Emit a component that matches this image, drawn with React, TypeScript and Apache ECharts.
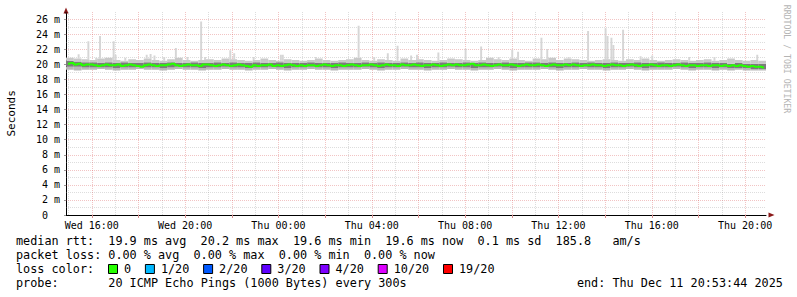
import React, { useEffect, useRef } from 'react';
import * as echarts from 'echarts';

// time in minutes since Wed Dec 10 00:00
const START = 893 + 44 / 60; // Wed 14:53:44
const END = START + 1800; // Thu 20:53:44
const MEDIAN_STEP = 10;
const SMOKE_STEP = 20;
const SPIKE_STEP = 5;

const median = [
  20.1, 20.2, 20.0, 20.1, 19.9, 20.0, 20.0, 19.9, 19.8, 19.9, 20.0, 19.9, 19.9, 20.0, 19.8, 19.9, 20.0, 19.9, 19.8, 19.7,
  19.9, 20.0, 19.9, 19.8, 19.9, 19.9, 20.0, 20.1, 19.9, 19.8, 19.9, 20.0, 19.9, 19.9, 19.8, 20.0, 20.0, 19.9, 19.8, 19.9,
  20.0, 19.9, 19.8, 19.9, 20.0, 19.9, 19.8, 19.7, 19.9, 19.8, 19.9, 19.9, 20.0, 19.8, 19.9, 19.8, 19.9, 20.0, 19.9, 19.8,
  19.9, 19.8, 19.9, 19.9, 19.8, 19.9, 20.0, 19.9, 19.8, 19.9, 19.9, 19.8, 19.9, 20.0, 19.9, 19.8, 19.9, 19.9, 20.0, 19.9,
  19.8, 19.9, 20.0, 19.9, 19.9, 19.8, 20.0, 19.9, 19.9, 20.0, 19.9, 19.8, 19.9, 19.9, 20.0, 19.9, 19.8, 19.9, 20.0, 19.9,
  20.0, 19.9, 19.9, 20.0, 20.1, 19.9, 19.9, 20.0, 19.9, 19.8, 19.9, 20.0, 19.9, 19.9, 20.0, 19.9, 19.8, 19.9, 20.0, 19.9,
  19.9, 20.0, 19.9, 19.8, 19.9, 20.0, 19.9, 19.9, 20.0, 19.9, 20.0, 19.9, 19.8, 19.9, 19.9, 20.0, 19.9, 19.9, 19.8, 19.9,
  20.0, 19.9, 19.9, 19.8, 19.9, 20.0, 19.9, 19.8, 19.9, 19.9, 20.0, 19.9, 19.8, 19.9, 19.9, 19.8, 19.9, 20.0, 19.9, 19.8,
  19.9, 19.9, 19.8, 19.9, 19.9, 19.8, 19.9, 19.9, 19.8, 19.9, 19.8, 19.9, 19.8, 19.9, 19.8, 19.7, 19.8, 19.7, 19.7, 19.6,
];

const smokeMin = [
  19.3, 19.2, 19.3, 19.3, 19.4, 19.3, 19.2, 19.3, 19.3, 19.4,
  19.3, 19.3, 19.2, 19.3, 19.4, 19.3, 19.3, 19.2, 19.3, 19.3,
  19.4, 19.3, 19.3, 19.2, 19.3, 19.3, 19.4, 19.3, 19.2, 19.3,
  19.3, 19.4, 19.3, 19.3, 19.2, 19.3, 19.3, 19.3, 19.4, 19.3,
  19.2, 19.3, 19.3, 19.4, 19.3, 19.3, 19.2, 19.3, 19.3, 19.4,
  19.3, 19.3, 19.2, 19.3, 19.3, 19.4, 19.3, 19.2, 19.3, 19.3,
  19.3, 19.4, 19.3, 19.2, 19.3, 19.3, 19.4, 19.3, 19.3, 19.2,
  19.3, 19.3, 19.4, 19.3, 19.2, 19.3, 19.3, 19.3, 19.4, 19.3,
  19.2, 19.3, 19.3, 19.2, 19.3, 19.2, 19.3, 19.2, 19.2, 19.2,
];

const smokeLo = [
  19.7, 19.7, 19.6, 19.6, 19.6, 19.6, 19.5, 19.6, 19.6, 19.7,
  19.6, 19.6, 19.5, 19.6, 19.7, 19.6, 19.6, 19.5, 19.6, 19.6,
  19.7, 19.6, 19.6, 19.5, 19.6, 19.6, 19.7, 19.6, 19.5, 19.6,
  19.6, 19.7, 19.6, 19.6, 19.5, 19.6, 19.6, 19.6, 19.7, 19.6,
  19.5, 19.6, 19.6, 19.7, 19.6, 19.6, 19.5, 19.6, 19.6, 19.7,
  19.6, 19.6, 19.5, 19.6, 19.6, 19.7, 19.6, 19.5, 19.6, 19.6,
  19.6, 19.7, 19.6, 19.5, 19.6, 19.6, 19.7, 19.6, 19.6, 19.5,
  19.6, 19.6, 19.7, 19.6, 19.5, 19.6, 19.6, 19.6, 19.7, 19.6,
  19.5, 19.6, 19.6, 19.5, 19.6, 19.5, 19.5, 19.5, 19.4, 19.4,
];

const smokeHi = [
  20.5, 20.4, 20.3, 20.3, 20.2, 20.3, 20.2, 20.3, 20.2, 20.2,
  20.3, 20.2, 20.2, 20.3, 20.2, 20.2, 20.3, 20.2, 20.2, 20.3,
  20.2, 20.3, 20.2, 20.2, 20.3, 20.2, 20.2, 20.3, 20.2, 20.2,
  20.2, 20.3, 20.2, 20.2, 20.2, 20.3, 20.2, 20.2, 20.3, 20.2,
  20.3, 20.2, 20.2, 20.3, 20.2, 20.3, 20.2, 20.2, 20.3, 20.2,
  20.2, 20.3, 20.2, 20.3, 20.2, 20.2, 20.3, 20.2, 20.2, 20.3,
  20.3, 20.2, 20.3, 20.2, 20.2, 20.3, 20.2, 20.3, 20.2, 20.2,
  20.3, 20.2, 20.2, 20.3, 20.2, 20.2, 20.3, 20.2, 20.2, 20.3,
  20.2, 20.2, 20.3, 20.2, 20.2, 20.1, 20.2, 20.1, 20.1, 20.1,
];

const smokeTop = [
  20.9, 20.8, 20.7, 20.6, 20.8, 20.9, 20.6, 20.5, 20.7, 20.6,
  20.8, 20.6, 20.5, 20.7, 20.9, 20.6, 20.5, 20.6, 20.7, 20.6,
  20.8, 20.7, 20.6, 20.5, 20.6, 20.8, 20.6, 20.5, 20.7, 20.6,
  20.5, 20.6, 20.8, 20.6, 20.5, 20.6, 20.7, 20.9, 20.6, 20.5,
  20.7, 20.6, 20.5, 20.8, 20.6, 20.7, 20.6, 20.5, 20.6, 20.8,
  20.7, 20.6, 20.5, 20.6, 20.9, 20.7, 20.6, 20.8, 20.6, 20.5,
  20.8, 20.7, 20.9, 20.6, 20.8, 20.7, 20.6, 20.5, 20.6, 20.7,
  20.6, 20.5, 20.7, 20.6, 20.8, 20.6, 20.5, 20.6, 20.7, 20.6,
  20.5, 20.6, 20.7, 20.5, 20.6, 20.8, 20.6, 20.5, 20.6, 20.5,
];

// spikes: 5-minute step index since start, and top value (ms)
const spikeSteps = [
  6, 11, 15, 17, 24, 25, 30, 41, 43, 45, 50, 56, 62, 69, 71, 84, 86, 96, 110, 111, 128, 150, 158, 165,
  170, 177, 180, 191, 205, 213, 222, 229, 232, 244, 247, 258, 268, 277, 278, 280, 281, 286, 295, 301, 320, 333, 355,
];
const spikeTops = [
  21.35, 23.1, 20.9, 23.8, 23.1, 21.3, 20.9, 21.3, 21.4, 21.2, 21.0, 22.2, 21.0, 25.7, 21.0, 21.9, 21.5, 21.0, 21.3, 21.3, 21.0, 25.15, 21.0, 21.5,
  22.5, 21.2, 21.3, 21.6, 22.1, 22.4, 21.0, 22.0, 21.7, 23.55, 22.05, 21.0, 24.45, 24.8, 23.8, 23.55, 22.6, 24.6, 21.1, 21.2, 21.0, 21.0, 21.3,
];

const xLabelValues = [960, 1200, 1440, 1680, 1920, 2160, 2400, 2640];
const xLabels = ['Wed 16:00', 'Wed 20:00', 'Thu 00:00', 'Thu 04:00', 'Thu 08:00', 'Thu 12:00', 'Thu 16:00', 'Thu 20:00'];
const xMajor = [960, 1080, 1200, 1320, 1440, 1560, 1680, 1800, 1920, 2040, 2160, 2280, 2400, 2520, 2640];
const xMinor = [900, 1020, 1140, 1260, 1380, 1500, 1620, 1740, 1860, 1980, 2100, 2220, 2340, 2460, 2580];
const yMajor = [2, 4, 6, 8, 10, 12, 14, 16, 18, 20, 22, 24, 26];
const yMinor = [1, 3, 5, 7, 9, 11, 13, 15, 17, 19, 21, 23, 25];

const lossLabels = ['0', '1/20', '2/20', '3/20', '4/20', '10/20', '19/20'];
const lossColors = ['#26ff00', '#00b8ff', '#0059ff', '#5e00ff', '#7e00ff', '#dd00ff', '#ff0000'];

const legendRow1: [number, string][] = [
  [0, 'median rtt:'], [13, '19.9 ms avg'], [26, '20.2 ms max'], [39, '19.6 ms min'],
  [52, '19.6 ms now'], [65, '0.1 ms sd'], [76, '185.8'], [84, 'am/s'],
];
const legendRow2: [number, string][] = [
  [0, 'packet loss:'], [13, '0.00 % avg'], [25, '0.00 % max'], [37, '0.00 % min'], [49, '0.00 % now'],
];
const legendRow3: [number, string][] = [[0, 'loss color:']];
const legendRow4: [number, string][] = [
  [0, 'probe:'], [13, '20 ICMP Echo Pings (1000 Bytes) every 300s'], [79, 'end: Thu Dec 11 20:53:44 2025'],
];

const MONO = '"DejaVu Sans Mono", monospace';
const MGRID = 'rgba(215,70,70,0.32)';
const GRID = 'rgba(150,150,150,0.32)';

export default function App() {
  const ref = useRef<HTMLDivElement>(null);
  useEffect(() => {
    document.body.style.margin = '0';
    if (!ref.current) return;
    const chart = echarts.init(ref.current, undefined, { renderer: 'svg' });

    const smokeData = smokeMin.map((v, i) => [
      START + i * SMOKE_STEP, START + (i + 1) * SMOKE_STEP, v, smokeLo[i], smokeHi[i], smokeTop[i],
    ]);
    const spikeData = spikeSteps.map((s, i) => {
      const idx = Math.min(smokeTop.length - 1, Math.floor((s * SPIKE_STEP) / SMOKE_STEP));
      return [START + s * SPIKE_STEP, START + (s + 1) * SPIKE_STEP, smokeTop[idx], spikeTops[i]];
    });
    const medianData = median.map((v, i) => [START + i * MEDIAN_STEP + MEDIAN_STEP / 2, v]);

    const markData: any[] = [];
    yMinor.forEach((v) => markData.push({ yAxis: v, lineStyle: { color: GRID, type: [1, 1], width: 1 } }));
    xMinor.forEach((v) => markData.push({ xAxis: v, lineStyle: { color: GRID, type: [1, 1], width: 1 } }));
    yMajor.forEach((v) => markData.push({ yAxis: v, lineStyle: { color: MGRID, type: [1, 1], width: 1 } }));
    xMajor.forEach((v) => markData.push({ xAxis: v, lineStyle: { color: MGRID, type: [1, 1], width: 1 } }));

    const CH = 7.1;
    const LX = 16;
    const rowY = [241, 255, 269, 283];
    const graphics: any[] = [];
    const addRow = (row: [number, string][], y: number) => {
      row.forEach(([col, text]) =>
        graphics.push({
          type: 'text', x: LX + col * CH, y, silent: true,
          style: { text, fontSize: 11.8, fontFamily: MONO, fill: '#000', align: 'left', verticalAlign: 'middle' },
        })
      );
    };
    addRow(legendRow1, rowY[0]);
    addRow(legendRow2, rowY[1]);
    addRow(legendRow3, rowY[2]);
    addRow(legendRow4, rowY[3]);
    let sq = 108.5;
    lossLabels.forEach((lab, i) => {
      graphics.push({
        type: 'rect', shape: { x: sq, y: rowY[2] - 4.5, width: 9, height: 9 }, silent: true,
        style: { fill: lossColors[i], stroke: '#000', lineWidth: 1 },
      });
      const tx = sq + 15.5;
      graphics.push({
        type: 'text', x: tx, y: rowY[2], silent: true,
        style: { text: lab, fontSize: 11.8, fontFamily: MONO, fill: '#000', align: 'left', verticalAlign: 'middle' },
      });
      sq = tx + lab.length * CH + 14.3;
    });
    graphics.push({
      type: 'text', x: 11, y: 113.4, rotation: Math.PI / 2, silent: true,
      style: { text: 'Seconds', fontSize: 11, fontFamily: MONO, fill: '#000', align: 'center', verticalAlign: 'middle' },
    });
    graphics.push({
      type: 'text', x: 786.5, y: 59, rotation: -Math.PI / 2, silent: true,
      style: { text: 'RRDTOOL / TOBI OETIKER', fontSize: 8.2, fontFamily: MONO, fill: '#b4b4b4', align: 'center', verticalAlign: 'middle' },
    });
    // axis arrows
    graphics.push({
      type: 'polygon', silent: true, z: 100,
      shape: { points: [[63.5, 13.5], [68.5, 13.5], [66, 7.5]] },
      style: { fill: '#8b1a1a' },
    });
    graphics.push({
      type: 'polygon', silent: true, z: 100,
      shape: { points: [[768.5, 212.5], [768.5, 217.5], [774.5, 215]] },
      style: { fill: '#8b1a1a' },
    });
    graphics.push({
      type: 'line', silent: true, z: 100,
      shape: { x1: 66, y1: 13.5, x2: 66, y2: 11.8 },
      style: { stroke: '#000', lineWidth: 1 },
    });

    const option: any = {
      animation: false,
      backgroundColor: '#ffffff',
      grid: { left: 66, right: 31, top: 11.8, bottom: 82 },
      xAxis: {
        type: 'value', min: START, max: END,
        axisLine: { show: true, lineStyle: { color: '#000', width: 1 } },
        axisTick: { show: true, customValues: xMajor, length: 3, lineStyle: { color: '#d89090' } },
        axisLabel: {
          customValues: xLabelValues, margin: 5, fontSize: 10, fontFamily: MONO, color: '#000',
          formatter: (v: number) => {
            const k = xLabelValues.indexOf(Math.round(v));
            return k >= 0 ? xLabels[k] : '';
          },
        },
        splitLine: { show: false },
      },
      yAxis: {
        type: 'value', min: 0, max: 27, interval: 2,
        axisLine: { show: true, lineStyle: { color: '#000', width: 1 } },
        axisTick: { show: true, length: 2, lineStyle: { color: '#999' } },
        axisLabel: {
          margin: 6, fontSize: 10, fontFamily: MONO, color: '#000',
          formatter: (v: number) => (v === 0 ? '{z|0}' : v > 26 ? '' : `${v} m`),
          rich: { z: { fontSize: 10, fontFamily: MONO, color: '#000', padding: [0, 12, 0, 0] } },
        },
        splitLine: { show: false },
      },
      series: [
        {
          type: 'line', data: [], z: 1, silent: true,
          markLine: {
            silent: true, symbol: ['none', 'none'], label: { show: false }, z: 1,
            emphasis: { disabled: true }, animation: false, data: markData,
          },
        },
        {
          type: 'custom', z: 2, silent: true, data: spikeData, clip: true,
          renderItem: (params: any, api: any) => {
            const p0 = api.coord([api.value(0), api.value(3)]);
            const p1 = api.coord([api.value(1), api.value(2)]);
            return {
              type: 'rect',
              shape: { x: p0[0], y: p0[1], width: p1[0] - p0[0], height: p1[1] - p0[1] },
              style: { fill: '#d6d6d6' },
            };
          },
        },
        {
          type: 'custom', z: 3, silent: true, data: smokeData, clip: true,
          renderItem: (params: any, api: any) => {
            const t0 = api.value(0);
            const t1 = api.value(1);
            const vals = [api.value(2), api.value(3), api.value(4), api.value(5)];
            const fills = ['#b8b8b8', '#7c7c7c', '#c9c9c9'];
            const children = [];
            for (let k = 0; k < 3; k++) {
              const a = api.coord([t0, vals[k + 1]]);
              const b = api.coord([t1, vals[k]]);
              children.push({
                type: 'rect',
                shape: { x: a[0], y: a[1], width: b[0] - a[0], height: b[1] - a[1] },
                style: { fill: fills[k] },
              });
            }
            return { type: 'group', children };
          },
        },
        {
          type: 'line', z: 4, silent: true, data: medianData, step: 'middle', showSymbol: false,
          lineStyle: { color: '#26ff00', width: 2.2 }, emphasis: { disabled: true },
        },
      ],
      graphic: graphics,
    };
    chart.setOption(option);
    return () => chart.dispose();
  }, []);
  return <div ref={ref} style={{ position: 'fixed', left: 0, top: 0, width: 797, height: 297 }} />;
}
